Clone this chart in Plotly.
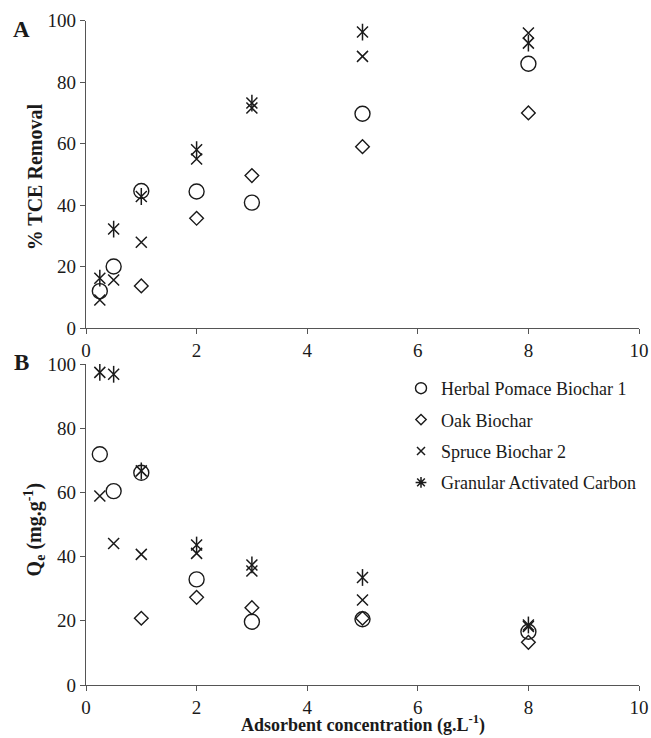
import plotly.graph_objects as go

# ---------------- data ----------------
conc = [0.25, 0.5, 1, 2, 3, 5, 8]

series_names = ["Herbal Pomace Biochar 1", "Oak Biochar", "Spruce Biochar 2",
                "Granular Activated Carbon"]

herbal_removal = [12, 20, 44.6, 44.4, 40.8, 69.7, 86]
oak_removal = [None, None, 13.7, 35.7, 49.6, 59, 70]
spruce_removal = [9.1, 15.6, 27.9, 55, 71.6, 88.4, 96]
gac_removal = [16.2, 32.2, 42.8, 58, 73.2, 96.3, 92.7]

herbal_qe = [71.9, 60.4, 66.1, 32.9, 19.7, 20.5, 16.6]
oak_qe = [None, None, 20.8, 27.3, 24.1, 20.8, 13.3]
spruce_qe = [58.9, 44.1, 40.7, 41, 35.5, 26.5, 18.2]
gac_qe = [97.4, 96.8, 66.7, 43.6, 37.4, 33.5, 18.7]

x_ticks = [0, 2, 4, 6, 8, 10]
y_ticks = [0, 20, 40, 60, 80, 100]

# ---------------- styling ----------------
W, H = 651, 738
FONT = "Liberation Serif"
INK = "#1a1a1a"
AXC = "#555555"

def px_x(p):
    return p / W

def px_y(p):
    return 1 - p / H

x_dom = [px_x(86), px_x(639)]
top_dom = [px_y(328), px_y(20.7)]
bot_dom = [px_y(685), px_y(364)]

fig = go.Figure()

MARK = {
    "circle": dict(symbol="circle-open", size=15, lw=1.4),
    "diamond": dict(symbol="diamond-open", size=10.5, lw=1.4),
    "x": dict(symbol="x-thin-open", size=11, lw=1.5),
}
LEG = {
    "circle": dict(symbol="circle-open", size=11, lw=1.4),
    "diamond": dict(symbol="diamond-open", size=8, lw=1.4),
    "x": dict(symbol="x-thin-open", size=8, lw=1.5),
    "ast": dict(symbol="asterisk-open", size=9, lw=1.5),
}

def mk(spec):
    return dict(symbol=spec["symbol"], size=spec["size"], color=INK,
                line=dict(color=INK, width=spec["lw"]))

def add_series(xa, ya, xs, ys, name, kind):
    if kind == "ast":
        # six-armed asterisk: X plus vertical stroke
        fig.add_trace(go.Scatter(x=xs, y=ys, mode="markers", name=name, legendgroup=name,
                                 showlegend=False, xaxis=xa, yaxis=ya,
                                 marker=mk(dict(symbol="x-thin-open", size=11, lw=1.5))))
        fig.add_trace(go.Scatter(x=xs, y=ys, mode="markers", name=name, legendgroup=name,
                                 showlegend=False, xaxis=xa, yaxis=ya,
                                 marker=mk(dict(symbol="line-ns-open", size=12, lw=1.5))))
    else:
        fig.add_trace(go.Scatter(x=xs, y=ys, mode="markers", name=name, legendgroup=name,
                                 showlegend=False, xaxis=xa, yaxis=ya,
                                 marker=mk(MARK[kind])))

kinds = ["circle", "diamond", "x", "ast"]
top_vals = [herbal_removal, oak_removal, spruce_removal, gac_removal]
bot_vals = [herbal_qe, oak_qe, spruce_qe, gac_qe]

for nm, kd, vals in zip(series_names, kinds, top_vals):
    add_series("x", "y", conc, vals, nm, kd)
for nm, kd, vals in zip(series_names, kinds, bot_vals):
    add_series("x2", "y2", conc, vals, nm, kd)

# legend entries (smaller symbols as in the original legend)
for nm, kd in zip(series_names, kinds):
    fig.add_trace(go.Scatter(x=[None], y=[None], mode="markers", name=nm, legendgroup=nm,
                             showlegend=True, xaxis="x2", yaxis="y2", marker=mk(LEG[kd])))

axis_common = dict(showgrid=False, zeroline=False, showline=True, linecolor=AXC,
                   linewidth=1.3, ticks="outside", ticklen=5, tickwidth=1.3,
                   tickcolor=AXC, tickfont=dict(family=FONT, size=19, color=INK),
                   automargin=False)

fig.update_layout(
    width=W, height=H,
    margin=dict(l=0, r=0, t=0, b=0),
    paper_bgcolor="white", plot_bgcolor="white",
    showlegend=True,
    xaxis=dict(domain=x_dom, anchor="y", range=[0, 10], tickvals=x_ticks, **axis_common),
    yaxis=dict(domain=top_dom, anchor="x", range=[0, 100], tickvals=y_ticks, **axis_common),
    xaxis2=dict(domain=x_dom, anchor="y2", range=[0, 10], tickvals=x_ticks, **axis_common),
    yaxis2=dict(domain=bot_dom, anchor="x2", range=[0, 100], tickvals=y_ticks, **axis_common),
    legend=dict(x=px_x(401), y=px_y(370), xanchor="left", yanchor="top",
                font=dict(family=FONT, size=18, color=INK),
                bgcolor="rgba(0,0,0,0)", traceorder="grouped", tracegroupgap=5,
                itemwidth=30),
    font=dict(family=FONT, color=INK),
)

annos = [
    dict(text="<b>% TCE Removal</b>", x=px_x(35), y=(top_dom[0] + top_dom[1]) / 2 - 0.004,
         textangle=-90, font=dict(size=20), yanchor="middle"),
    dict(text="<b>Q<sub>e</sub> (mg.g<sup>-1</sup>)</b>", x=px_x(35),
         y=(bot_dom[0] + bot_dom[1]) / 2 - 0.008, textangle=-90, font=dict(size=20),
         yanchor="middle"),
    dict(text="<b>Adsorbent concentration (g.L<sup>-1</sup>)</b>", x=(x_dom[0] + x_dom[1]) / 2,
         y=px_y(738), font=dict(size=18), yanchor="bottom"),
    dict(text="<b>A</b>", x=px_x(21), y=px_y(29), font=dict(size=23), yanchor="middle"),
    dict(text="<b>B</b>", x=px_x(21), y=px_y(362), font=dict(size=23), yanchor="middle"),
]
for a in annos:
    a.update(xref="paper", yref="paper", showarrow=False, xanchor="center")
    a["font"].update(family=FONT, color=INK)
    fig.add_annotation(**a)

fig.write_html("out.html")
